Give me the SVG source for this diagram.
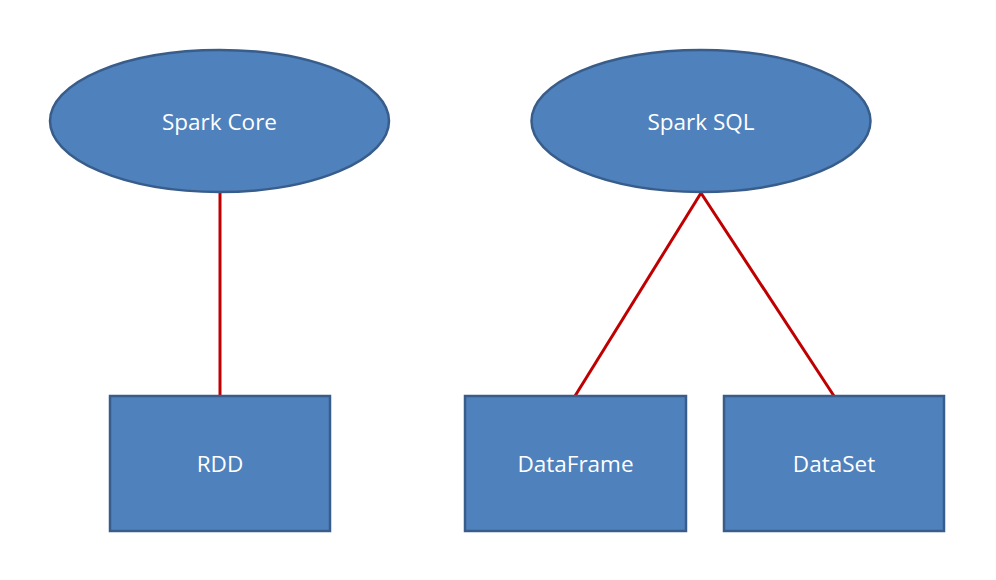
<svg xmlns="http://www.w3.org/2000/svg" width="996" height="580" viewBox="0 0 996 580">
<style>
.shape{fill:#4F81BD;stroke:#385D8A;stroke-width:2.5}
.lbl{font-family:"Open Sans","Liberation Sans",sans-serif;font-size:22.5px;fill:#FFFFFF;text-anchor:middle}
.conn{stroke:#C00000;stroke-width:3;fill:none}
</style>
<rect width="996" height="580" fill="#FFFFFF"/>
<g id="connectors">
<line class="conn" x1="220" y1="193" x2="220" y2="396"/>
<line class="conn" x1="701" y1="193" x2="575" y2="396"/>
<line class="conn" x1="701" y1="193" x2="834" y2="396"/>
</g>
<g id="spark-core">
<ellipse class="shape" cx="219.5" cy="121" rx="169.5" ry="71"/>
<text class="lbl" x="219.5" y="130">Spark Core</text>
</g>
<g id="spark-sql">
<ellipse class="shape" cx="701" cy="121" rx="169.5" ry="71"/>
<text class="lbl" x="701" y="130">Spark SQL</text>
</g>
<g id="rdd">
<rect class="shape" x="110" y="396" width="220" height="135"/>
<text class="lbl" x="220" y="472">RDD</text>
</g>
<g id="dataframe">
<rect class="shape" x="465" y="396" width="221" height="135"/>
<text class="lbl" x="575.5" y="472">DataFrame</text>
</g>
<g id="dataset">
<rect class="shape" x="724" y="396" width="220" height="135"/>
<text class="lbl" x="834" y="472">DataSet</text>
</g>
</svg>
